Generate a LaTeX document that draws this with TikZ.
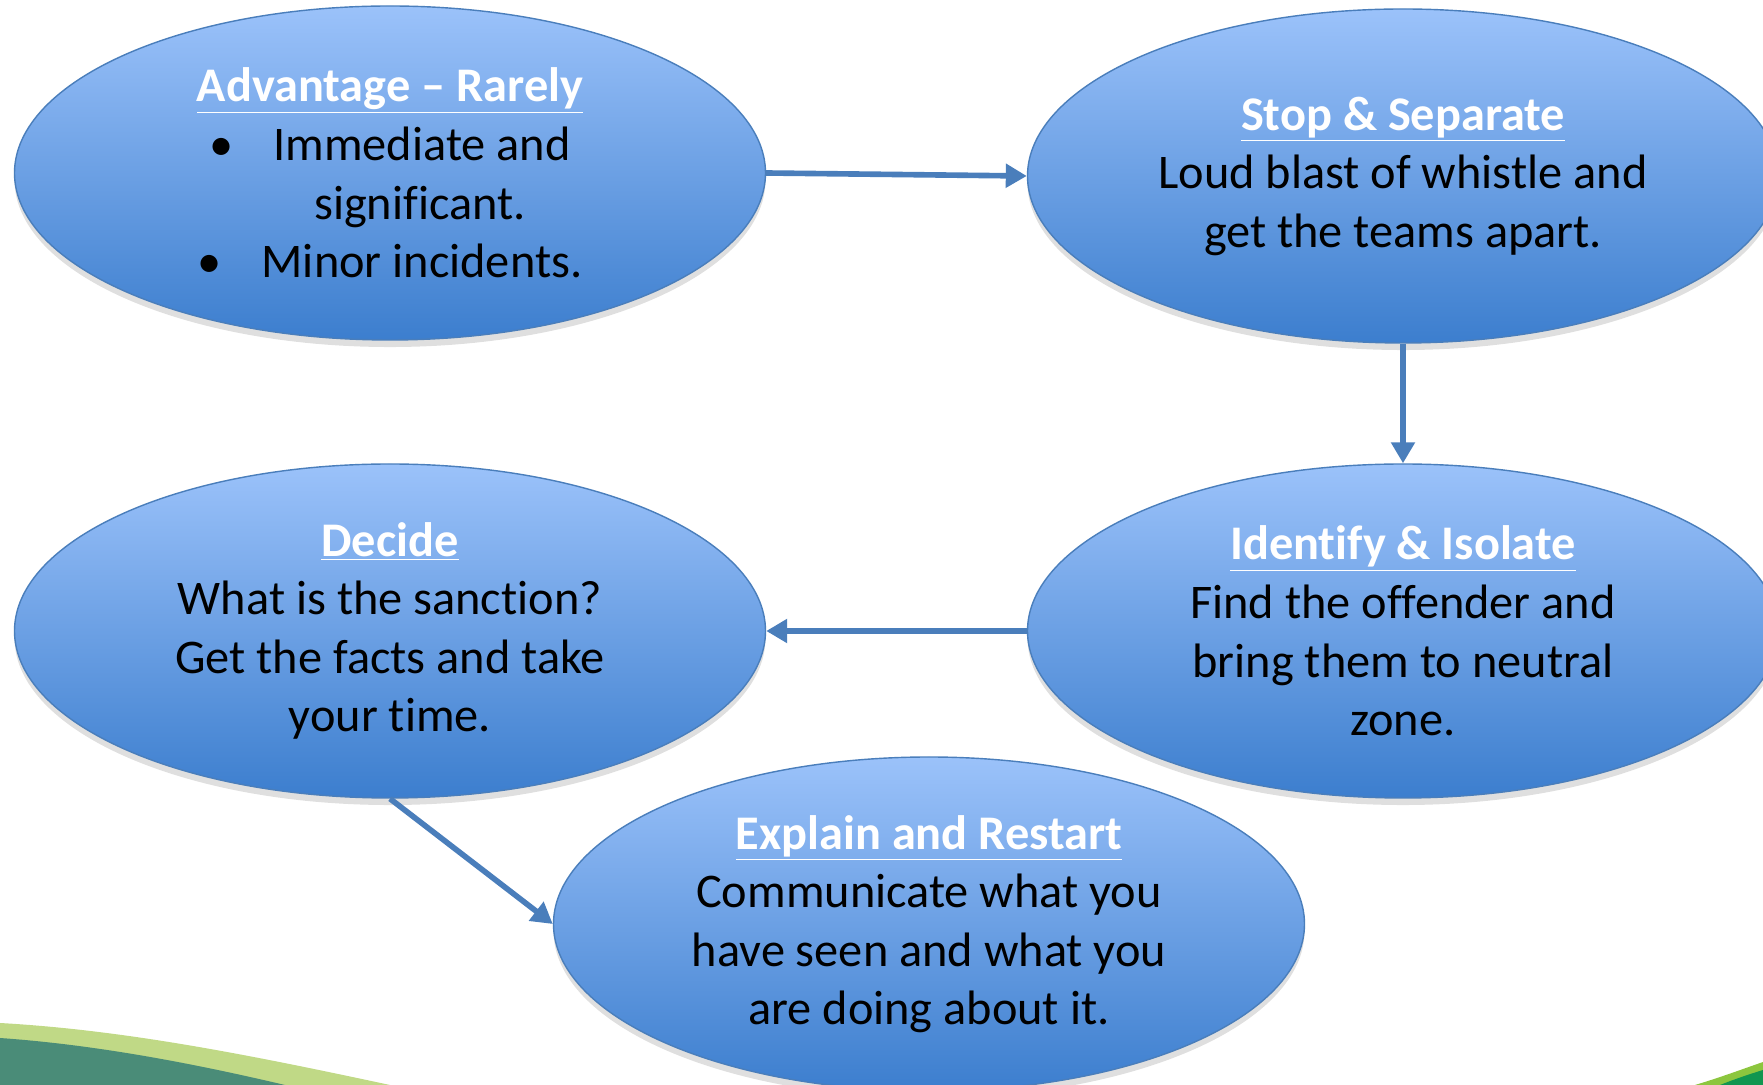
\documentclass[tikz,border=0pt]{standalone}
\usepackage{fontspec}
\setmainfont{Carlito}[Ligatures=NoCommon]
\usetikzlibrary{arrows.meta,shapes.geometric,shadows}
\definecolor{flowblue}{RGB}{74,126,187}
\definecolor{bubbletop}{RGB}{155,194,250}
\definecolor{bubblebot}{RGB}{60,126,206}
\definecolor{swooshlight}{RGB}{192,217,134}
\definecolor{swooshdark}{RGB}{74,140,120}
\definecolor{leaflight}{RGB}{140,198,62}
\definecolor{leafdark}{RGB}{16,150,80}
\tikzset{>=Triangle,
  bubble/.style = {ellipse,draw=flowblue,line width=0.8pt,
    top color=bubbletop,bottom color=bubblebot,
    minimum width=15.02cm,minimum height=6.68cm,inner sep=0pt,align=center,
    font=\fontsize{27.5}{33.3}\selectfont,
    drop shadow={shadow xshift=0pt,shadow yshift=-4pt,opacity=0.25}},
  flow/.style = {draw=flowblue,line width=3.2pt,-{Triangle[length=0.42cm,width=0.46cm]}}
}
\newcommand{\heading}[1]{\textcolor{white}{\bfseries\underline{#1}}}

\begin{document}
\begin{tikzpicture}
  \useasboundingbox (0,0) rectangle (35.26,21.7);
  \clip (0,0) rectangle (35.26,21.7);

  % green swooshes in the corners
  \fill[swooshlight] (0,1.24) .. controls (2.5,1.1) and (5,0.6) .. (7.8,0) -- (0,0) -- cycle;
  \fill[swooshdark] (0,0.94) .. controls (2,0.8) and (4,0.4) .. (5.7,0) -- (0,0) -- cycle;
  \fill[leaflight] (33.9,0) .. controls (34.4,0.15) and (34.8,0.3) .. (35.26,0.46) -- (35.26,0) -- cycle;
  \fill[leafdark] (34.4,0) .. controls (34.7,0.12) and (35,0.22) .. (35.26,0.3) -- (35.26,0) -- cycle;

  \node[bubble] (advantage) at (7.8,18.24) {\heading{Advantage – Rarely}\\
    \textbullet\hspace{0.8cm}Immediate and\\
    \hspace*{1.2cm}significant.\\
    \textbullet\hspace{0.8cm}Minor incidents.};
  \node[bubble] (stop) at (28.06,18.18) {\heading{Stop \& Separate}\\
    Loud blast of whistle and\\ get the teams apart.};
  \node[bubble] (decide) at (7.8,9.08) {\heading{Decide}\\
    What is the sanction?\\ Get the facts and take\\ your time.};
  \node[bubble] (identify) at (28.06,9.08) {\heading{Identify \& Isolate}\\
    Find the offender and\\ bring them to neutral\\ zone.};
  \node[bubble] (explain) at (18.58,3.22) {\heading{Explain and Restart}\\
    Communicate what you\\ have seen and what you\\ are doing about it.};

  \draw[flow] (advantage.east) -- (stop.west);
  \draw[flow] (stop.south) -- (identify.north);
  \draw[flow] (identify.west) -- (decide.east);
  \draw[flow] (decide.south) -- (explain.west);
\end{tikzpicture}
\end{document}
